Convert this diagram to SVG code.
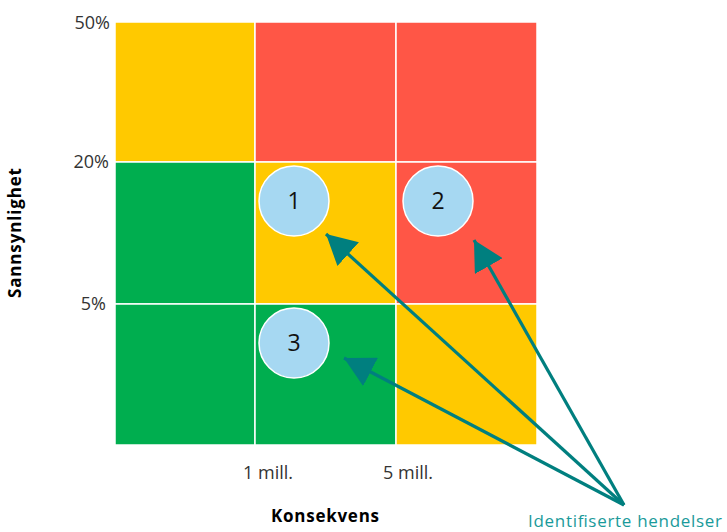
<svg xmlns="http://www.w3.org/2000/svg" width="727" height="532" viewBox="0 0 727 532">
  <style>
    .cell { stroke: #ffffff; stroke-width: 1.5; }
    .y { fill: #ffc900; }
    .r { fill: #ff5646; }
    .g { fill: #00ae4f; }
    .axis { font-family: "Open Sans", "Noto Sans", sans-serif; font-size: 18px; fill: #333333; }
    .title { font-family: "Open Sans", "Noto Sans", sans-serif; font-size: 17px; font-weight: bold; fill: #000000; }
    .event circle { fill: #a6d8f2; stroke: #ffffff; stroke-width: 1.5; }
    .event text { font-family: "Open Sans", "Noto Sans", sans-serif; font-size: 23px; fill: #111111; text-anchor: middle; }
    .link { stroke: #007f7f; stroke-width: 3.2; fill: none; marker-end: url(#head); }
    .note { font-family: "Open Sans", "Noto Sans", sans-serif; font-size: 17px; fill: #1a9a9a; }
  </style>
  <defs>
    <marker id="head" markerUnits="userSpaceOnUse" markerWidth="32" markerHeight="32" refX="30" refY="16" orient="auto" viewBox="0 0 32 32">
      <path d="M0,0 L30,16 L0,32 z" fill="#007f7f"/>
    </marker>
  </defs>
  <rect width="727" height="532" fill="#ffffff"/>

  <!-- risk matrix -->
  <g id="matrix">
    <rect class="cell y" x="115" y="22" width="140" height="140"/>
    <rect class="cell r" x="255" y="22" width="141" height="140"/>
    <rect class="cell r" x="396" y="22" width="141" height="140"/>
    <rect class="cell g" x="115" y="162" width="140" height="142"/>
    <rect class="cell y" x="255" y="162" width="141" height="142"/>
    <rect class="cell r" x="396" y="162" width="141" height="142"/>
    <rect class="cell g" x="115" y="304" width="140" height="141"/>
    <rect class="cell g" x="255" y="304" width="141" height="141"/>
    <rect class="cell y" x="396" y="304" width="141" height="141"/>
  </g>

  <!-- axis labels -->
  <g id="axes">
    <text class="axis" x="110" y="29" text-anchor="end">50%</text>
    <text class="axis" x="109" y="168" text-anchor="end">20%</text>
    <text class="axis" x="106" y="310" text-anchor="end">5%</text>
    <text class="axis" x="243" y="479">1 mill.</text>
    <text class="axis" x="383" y="479">5 mill.</text>
    <text class="title" x="271" y="522" textLength="108">Konsekvens</text>
    <text class="title" transform="translate(21,233) rotate(-90)" text-anchor="middle" textLength="130">Sannsynlighet</text>
  </g>

  <!-- events -->
  <g id="event1" class="event">
    <circle cx="294" cy="201" r="35"/>
    <text x="294" y="209">1</text>
  </g>
  <g id="event2" class="event">
    <circle cx="438" cy="201" r="35"/>
    <text x="438" y="209">2</text>
  </g>
  <g id="event3" class="event">
    <circle cx="294" cy="343" r="35"/>
    <text x="294" y="351">3</text>
  </g>

  <!-- connectors -->
  <g id="connectors">
    <line class="link" x1="624" y1="505" x2="326" y2="234"/>
    <line class="link" x1="624" y1="505" x2="474" y2="240"/>
    <line class="link" x1="624" y1="505" x2="344" y2="358"/>
  </g>

  <g id="note">
    <text class="note" x="528" y="527" textLength="194">Identifiserte hendelser</text>
  </g>
</svg>
